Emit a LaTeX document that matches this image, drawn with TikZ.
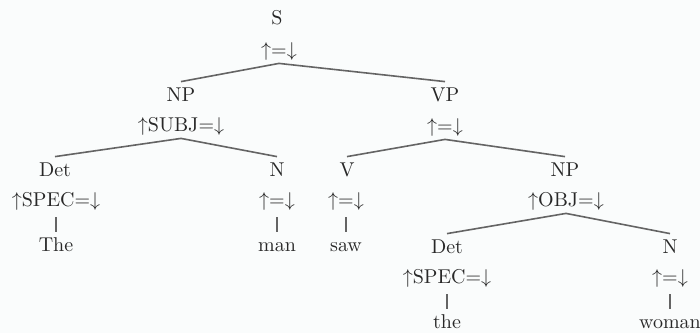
\documentclass[tikz,border=0pt]{standalone}
\begin{document}
\begin{tikzpicture}[x=0.5pt,y=-0.5pt,
  label/.style={inner sep=2.75pt,text height=7pt,text depth=0.5pt,text=ink,font=\fontsize{10}{12}\selectfont},
  branch/.style={draw=edge,line width=0.8pt},
  stem/.style={draw=edge,line width=0.7pt,shorten <=2pt}]
\definecolor{ink}{RGB}{40,40,40}
\definecolor{edge}{RGB}{100,100,100}
\definecolor{paper}{RGB}{250,252,252}
\fill[paper] (0,0) rectangle (700,333);
\useasboundingbox (0,0) rectangle (700,333);

% S
\node[label] (s)   at (277,18) {S};
\node[label] (sf)  at (279,50) {$\uparrow=\downarrow$};
% subject NP
\node[label] (np1)  at (181,95) {NP};
\node[label] (np1f) at (181,125) {$\uparrow$SUBJ$=\downarrow$};
% VP
\node[label] (vp)  at (445,95) {VP};
\node[label] (vpf) at (445,126) {$\uparrow=\downarrow$};
% The man
\node[label] (det1)  at (55,170) {Det};
\node[label] (det1f) at (56,200) {$\uparrow$SPEC$=\downarrow$};
\node[label] (w1)    at (56,245) {The};
\node[label] (n1)    at (277,170) {N};
\node[label] (n1f)   at (277,200) {$\uparrow=\downarrow$};
\node[label] (w2)    at (277,245) {man};
% saw
\node[label] (v)   at (347,170) {V};
\node[label] (vf)  at (346,200) {$\uparrow=\downarrow$};
\node[label] (w3)  at (346,245) {saw};
% object NP
\node[label] (np2)  at (565,170) {NP};
\node[label] (np2f) at (566,200) {$\uparrow$OBJ$=\downarrow$};
% the woman
\node[label] (det2)  at (447,247) {Det};
\node[label] (det2f) at (447,277) {$\uparrow$SPEC$=\downarrow$};
\node[label] (w4)    at (447,322) {the};
\node[label] (n2)    at (670,247) {N};
\node[label] (n2f)   at (670,277) {$\uparrow=\downarrow$};
\node[label] (w5)    at (670,322) {woman};

% tree branches
\draw[branch] (np1.north) -- (sf.south) -- (vp.north);
\draw[branch] (det1.north) -- (np1f.south) -- (n1.north);
\draw[branch] (v.north) -- (vpf.south) -- (np2.north);
\draw[branch] (det2.north) -- (np2f.south) -- (n2.north);

% lexical stems
\draw[stem] (det1f.south) -- (w1.north);
\draw[stem] (n1f.south) -- (w2.north);
\draw[stem] (vf.south) -- (w3.north);
\draw[stem] (det2f.south) -- (w4.north);
\draw[stem] (n2f.south) -- (w5.north);
\end{tikzpicture}
\end{document}
